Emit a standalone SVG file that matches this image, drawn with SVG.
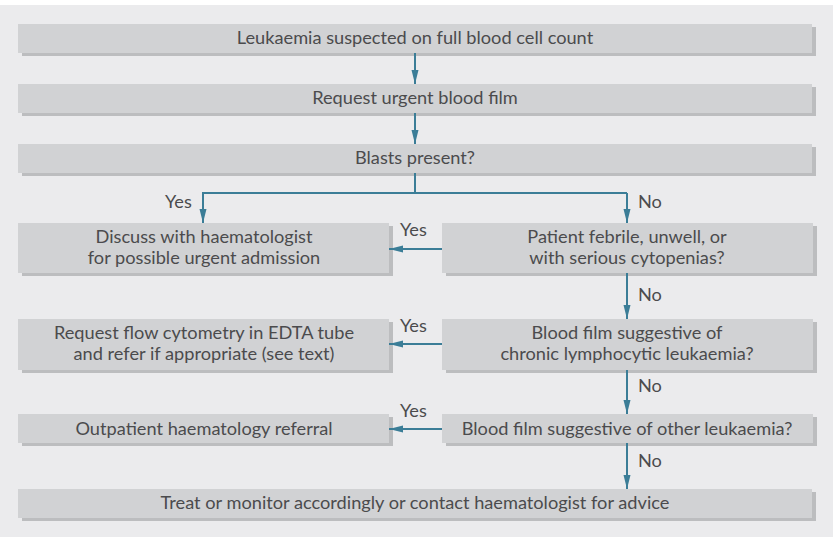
<svg xmlns="http://www.w3.org/2000/svg" width="833" height="537" viewBox="0 0 833 537">
<defs>
<marker id="ah" markerUnits="userSpaceOnUse" markerWidth="14" markerHeight="8" refX="14" refY="4" orient="auto">
<path d="M0,0.5 L14,4 L0,7.5 z" fill="#3b7d97"/>
</marker>
<style>
.sh{fill:#bcbdbf}
.bx{fill:#d1d2d4}
text{font-family:Lato,"Liberation Sans",sans-serif;font-size:18.2px;fill:#4b4b4d;text-anchor:middle}
.lb{text-anchor:start}
.c{fill:none;stroke:#3b7d97;stroke-width:2}
</style>
</defs>
<rect x="0" y="0" width="833" height="537" fill="#ffffff"/>
<rect x="0" y="5" width="833" height="532" fill="#ebebed"/>

<g id="n1"><rect class="sh" x="22" y="27" width="794" height="29"/><rect class="bx" x="18" y="24" width="794" height="29"/><text x="415" y="44">Leukaemia suspected on full blood cell count</text></g>
<g id="n2"><rect class="sh" x="22" y="87" width="794" height="29"/><rect class="bx" x="18" y="84" width="794" height="29"/><text x="415" y="104">Request urgent blood film</text></g>
<g id="n3"><rect class="sh" x="22" y="147" width="794" height="29"/><rect class="bx" x="18" y="144" width="794" height="29"/><text x="415" y="164">Blasts present?</text></g>
<g id="n4"><rect class="sh" x="22" y="226" width="371" height="50"/><rect class="bx" x="18" y="223" width="371" height="50"/><text x="204" y="243">Discuss with haematologist</text><text x="204" y="264">for possible urgent admission</text></g>
<g id="n5"><rect class="sh" x="446" y="226" width="371" height="50"/><rect class="bx" x="442" y="223" width="371" height="50"/><text x="627" y="243">Patient febrile, unwell, or</text><text x="627" y="264">with serious cytopenias?</text></g>
<g id="n6"><rect class="sh" x="22" y="322" width="371" height="51"/><rect class="bx" x="18" y="319" width="371" height="51"/><text x="204" y="339">Request flow cytometry in EDTA tube</text><text x="204" y="360">and refer if appropriate (see text)</text></g>
<g id="n7"><rect class="sh" x="446" y="322" width="371" height="51"/><rect class="bx" x="442" y="319" width="371" height="51"/><text x="627" y="339">Blood film suggestive of</text><text x="627" y="360">chronic lymphocytic leukaemia?</text></g>
<g id="n8"><rect class="sh" x="22" y="417" width="371" height="29"/><rect class="bx" x="18" y="414" width="371" height="29"/><text x="204" y="435">Outpatient haematology referral</text></g>
<g id="n9"><rect class="sh" x="446" y="417" width="371" height="29"/><rect class="bx" x="442" y="414" width="371" height="29"/><text x="627" y="435">Blood film suggestive of other leukaemia?</text></g>
<g id="n10"><rect class="sh" x="22" y="492" width="794" height="29"/><rect class="bx" x="18" y="489" width="794" height="29"/><text x="415" y="509">Treat or monitor accordingly or contact haematologist for advice</text></g>

<g id="connectors">
<path class="c" d="M415,53 V84" marker-end="url(#ah)"/>
<path class="c" d="M415,113 V144" marker-end="url(#ah)"/>
<path class="c" d="M415,173 V193"/>
<path class="c" d="M627,193 H203 V223" marker-end="url(#ah)"/>
<path class="c" d="M627,193 V223" marker-end="url(#ah)"/>
<path class="c" d="M442,249 H389" marker-end="url(#ah)"/>
<path class="c" d="M627,273 V319" marker-end="url(#ah)"/>
<path class="c" d="M442,344 H389" marker-end="url(#ah)"/>
<path class="c" d="M627,370 V414" marker-end="url(#ah)"/>
<path class="c" d="M442,429 H389" marker-end="url(#ah)"/>
<path class="c" d="M627,443 V489" marker-end="url(#ah)"/>
<text class="lb" x="165" y="208">Yes</text>
<text class="lb" x="638" y="208">No</text>
<text class="lb" x="400" y="236">Yes</text>
<text class="lb" x="638" y="301">No</text>
<text class="lb" x="400" y="332">Yes</text>
<text class="lb" x="638" y="392">No</text>
<text class="lb" x="400" y="417">Yes</text>
<text class="lb" x="638" y="467">No</text>
</g>
</svg>
